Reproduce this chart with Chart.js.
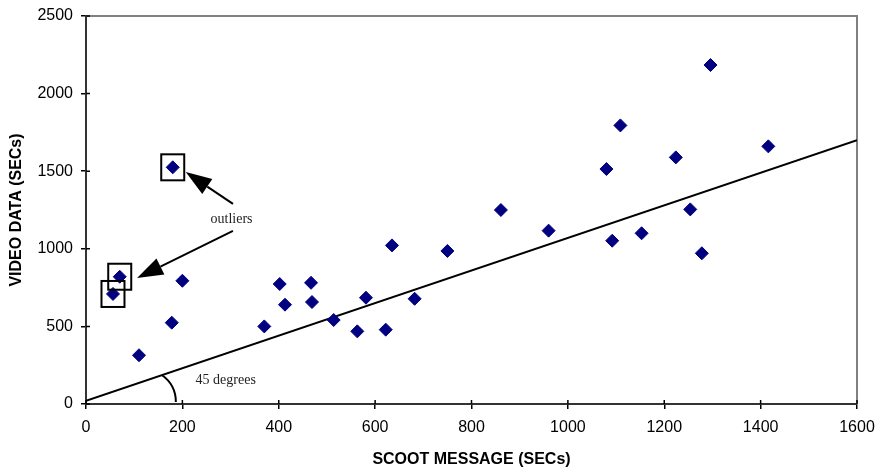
<!DOCTYPE html>
<html>
<head>
<meta charset="utf-8">
<script src="https://cdn.jsdelivr.net/npm/chart.js@4/dist/chart.umd.min.js"></script>
<style>
html,body{margin:0;padding:0;background:#fff;}
canvas{display:block;}
</style>
</head>
<body>
<canvas id="c" width="877" height="470"></canvas>
<script>
// ---- data ----
const scootSecs = [56, 70, 110, 178, 180, 200, 370, 402, 413, 467, 469, 514, 563, 581, 622, 635, 682, 750, 861, 960, 1080, 1092, 1109, 1153, 1224, 1254, 1278, 1296, 1416];
const videoSecs = [709, 820, 314, 524, 1525, 794, 500, 773, 640, 781, 657, 541, 468, 685, 479, 1022, 678, 986, 1250, 1117, 1514, 1052, 1795, 1100, 1589, 1254, 971, 2184, 1660];
const refLineX = [0, 1600];
const refLineY = [20, 1700];
const xTicks = [0, 200, 400, 600, 800, 1000, 1200, 1400, 1600];
const yTicks = [0, 500, 1000, 1500, 2000, 2500];
const outlierIdx = [0, 1, 4];

// annotation anchors (data coordinates)
const outlierLabel = {x: 302, y: 1192, text: 'outliers'};
const arrows = [
  {from: [305, 1289], to: [207, 1495]},
  {from: [305, 1115], to: [106, 812]}
];
const angleLabel = {x: 290, y: 150, text: '45 degrees'};
const angleArc = {cx: 118, cy: 13};

const FONT = "'Liberation Sans', Arial, sans-serif";
const SERIF = "'Liberation Serif', 'Times New Roman', serif";

const annot = {
  id: 'annot',
  beforeDatasetsDraw(chart) {
    const {ctx, chartArea: a, scales: {x, y}} = chart;
    ctx.save();
    ctx.strokeStyle = '#808080';
    ctx.lineWidth = 2;
    ctx.beginPath();
    ctx.moveTo(a.left, a.top);
    ctx.lineTo(a.right, a.top);
    ctx.lineTo(a.right, a.bottom);
    ctx.stroke();
    ctx.strokeStyle = '#000';
    ctx.lineWidth = 1.5;
    ctx.beginPath();
    xTicks.forEach(v => { const px = x.getPixelForValue(v); ctx.moveTo(px, a.bottom); ctx.lineTo(px, a.bottom - 4); });
    yTicks.forEach(v => { const py = y.getPixelForValue(v); ctx.moveTo(a.left, py); ctx.lineTo(a.left + 4, py); });
    ctx.stroke();
    ctx.restore();
  },
  afterDatasetsDraw(chart) {
    const {ctx, scales: {x, y}} = chart;
    ctx.save();
    ctx.strokeStyle = '#000';
    ctx.lineWidth = 2;
    outlierIdx.forEach(i => {
      const px = x.getPixelForValue(scootSecs[i]);
      const py = y.getPixelForValue(videoSecs[i]);
      ctx.strokeRect(px - 11.5, py - 13, 23, 26);
    });
    arrows.forEach(ar => {
      const x0 = x.getPixelForValue(ar.from[0]), y0 = y.getPixelForValue(ar.from[1]);
      const x1 = x.getPixelForValue(ar.to[0]), y1 = y.getPixelForValue(ar.to[1]);
      const ang = Math.atan2(y1 - y0, x1 - x0);
      const L = 26, W = 9;
      const bx = x1 - L * Math.cos(ang), by = y1 - L * Math.sin(ang);
      ctx.beginPath();
      ctx.moveTo(x0, y0);
      ctx.lineTo(bx, by);
      ctx.lineWidth = 2;
      ctx.stroke();
      ctx.beginPath();
      ctx.moveTo(x1, y1);
      ctx.lineTo(bx + W * Math.sin(ang), by - W * Math.cos(ang));
      ctx.lineTo(bx - W * Math.sin(ang), by + W * Math.cos(ang));
      ctx.closePath();
      ctx.fillStyle = '#000';
      ctx.fill();
    });
    ctx.fillStyle = '#222';
    ctx.font = '14px ' + SERIF;
    ctx.textAlign = 'center';
    ctx.textBaseline = 'middle';
    ctx.fillText(outlierLabel.text, x.getPixelForValue(outlierLabel.x), y.getPixelForValue(outlierLabel.y));
    ctx.fillText(angleLabel.text, x.getPixelForValue(angleLabel.x), y.getPixelForValue(angleLabel.y));
    const cx = x.getPixelForValue(angleArc.cx), cy = y.getPixelForValue(angleArc.cy);
    ctx.beginPath();
    ctx.arc(cx, cy, 33, -55 * Math.PI / 180, 0);
    ctx.lineWidth = 2;
    ctx.strokeStyle = '#000';
    ctx.stroke();
    ctx.restore();
  }
};

new Chart(document.getElementById('c'), {
  type: 'scatter',
  data: {
    datasets: [
      {
        label: 'Video vs SCOOT',
        data: scootSecs.map((v, i) => ({x: v, y: videoSecs[i]})),
        pointStyle: 'rectRot',
        pointRadius: 6.5,
        borderWidth: 1,
        backgroundColor: '#000080',
        borderColor: '#000080',
        order: 0
      },
      {
        label: 'line',
        data: refLineX.map((v, i) => ({x: v, y: refLineY[i]})),
        showLine: true,
        pointRadius: 0,
        borderColor: '#000',
        borderWidth: 2,
        order: 1
      }
    ]
  },
  options: {
    responsive: false,
    animation: false,
    devicePixelRatio: 1,
    layout: {padding: {top: 16, right: 20, left: 0, bottom: 0}},
    plugins: {legend: {display: false}, tooltip: {enabled: false}},
    scales: {
      x: {
        type: 'linear', min: 0, max: 1600,
        afterBuildTicks: s => { s.ticks = xTicks.map(v => ({value: v})); },
        afterFit: s => { s.height = 66; s.paddingRight = 0; s.paddingLeft = 0; },
        ticks: {color: '#000', font: {family: FONT, size: 16}, padding: 9, maxRotation: 0, callback: v => String(v)},
        grid: {drawOnChartArea: false, drawTicks: true, tickLength: 5, color: '#000', lineWidth: 1.5},
        border: {display: true, color: '#333', width: 2},
        title: {display: true, text: 'SCOOT MESSAGE (SECs)', color: '#000', font: {family: FONT, size: 16, weight: 'bold'}, padding: {top: 0, bottom: 1}}
      },
      y: {
        type: 'linear', min: 0, max: 2500,
        afterBuildTicks: s => { s.ticks = yTicks.map(v => ({value: v})); },
        afterFit: s => { s.width = 86; s.paddingTop = 0; s.paddingBottom = 0; },
        ticks: {color: '#000', font: {family: FONT, size: 16}, padding: 8, callback: v => String(v)},
        grid: {drawOnChartArea: false, drawTicks: true, tickLength: 5, color: '#000', lineWidth: 1.5},
        border: {display: true, color: '#333', width: 2},
        title: {display: true, text: 'VIDEO DATA (SECs)', color: '#000', font: {family: FONT, size: 16, weight: 'bold'}, padding: {top: 7, bottom: 0}}
      }
    }
  },
  plugins: [annot]
});
</script>
</body>
</html>
